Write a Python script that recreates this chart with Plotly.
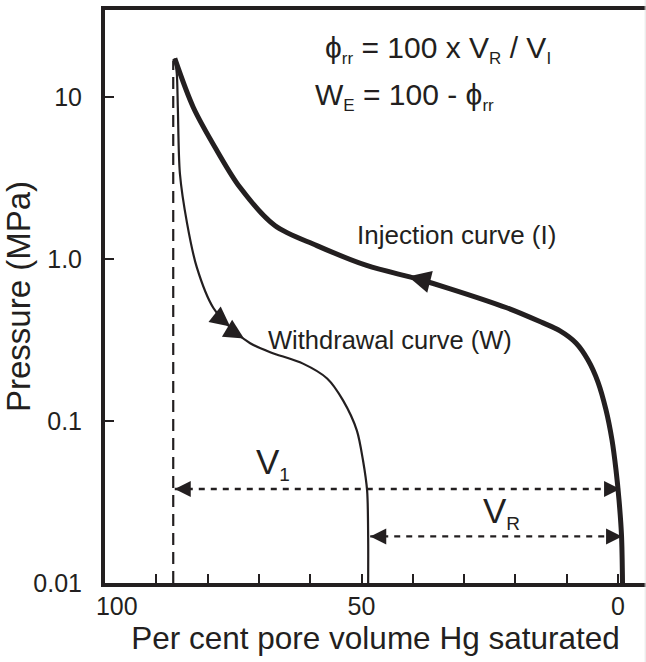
import math
import plotly.graph_objects as go

# Mercury injection / withdrawal capillary pressure curves
injection_pct = [86.4, 82.8, 78.2, 73.7, 66.9, 58.7, 49.0, 39.2, 32.7, 21.7, 15.0, 11.3, 8.2, 5.85, 3.9, 2.34, 1.17, 0.39, -0.2, -0.68, -0.88]
injection_mpa = [17.3, 8.65, 4.68, 2.77, 1.61, 1.21, 0.912, 0.755, 0.655, 0.50, 0.408, 0.360, 0.303, 0.238, 0.174, 0.117, 0.0764, 0.0499, 0.0325, 0.0198, 0.010]

withdrawal_pct = [86.4, 86.0, 85.8, 85.4, 84.0, 82.1, 78.9, 75.0, 71.7, 67.8, 61.4, 56.7, 53.6, 50.9, 49.7, 48.9, 48.7, 48.7]
withdrawal_mpa = [17.3, 13.9, 8.6, 3.37, 1.66, 0.887, 0.50, 0.363, 0.302, 0.266, 0.226, 0.183, 0.134, 0.0873, 0.057, 0.037, 0.019, 0.010]

# Maximum mercury saturation (dashed guide) and the two volume spans
max_sat_pct = 86.7
v1_span = [86.4, -0.4]
v1_level = 0.038
vr_span = [48.3, -0.8]
vr_level = 0.0194

# Axis ticks
x_ticks = [100, 90, 80, 70, 60, 50, 40, 30, 20, 10, 0]
x_label_vals = [97.7, 50, 0]
x_label_text = ["100", "50", "0"]
y_ticks = [0.01, 0.1, 1, 10]
y_tick_text = ["0.01", "0.1", "1.0", "10"]

INK = "#231f20"
FONT = "Liberation Sans, Arial, Helvetica, sans-serif"
X_RANGE = [100, -5.46]
Y_RANGE = [-2, 1.537]


def sub(text, size):
    return f"<sub><span style='font-size:{size}px'>{text}</span></sub>"


fig = go.Figure()

fig.add_trace(go.Scatter(
    x=[max_sat_pct, max_sat_pct], y=[0.01, 16.8], mode="lines",
    line=dict(color=INK, width=2.2, dash="12px,7px"), hoverinfo="skip"))

fig.add_trace(go.Scatter(
    x=v1_span, y=[v1_level, v1_level], mode="lines",
    line=dict(color=INK, width=2.4, dash="6px,6px"), hoverinfo="skip"))
fig.add_trace(go.Scatter(
    x=vr_span, y=[vr_level, vr_level], mode="lines",
    line=dict(color=INK, width=2.4, dash="6px,6px"), hoverinfo="skip"))

fig.add_trace(go.Scatter(
    x=withdrawal_pct, y=withdrawal_mpa, mode="lines",
    line=dict(color=INK, width=2.2, shape="spline", smoothing=0.8), hoverinfo="skip"))
fig.add_trace(go.Scatter(
    x=injection_pct, y=injection_mpa, mode="lines",
    line=dict(color=INK, width=5, shape="spline", smoothing=0.9), hoverinfo="skip"))

# invisible trace carrying the label-only axis
fig.add_trace(go.Scatter(x=[50], y=[1], xaxis="x2", mode="markers",
                         marker=dict(opacity=0), hoverinfo="skip"))


def arrow(x, y, ax, ay, width, size):
    return dict(x=x, y=math.log10(y), xref="x", yref="y", ax=ax, ay=ay,
                showarrow=True, arrowhead=2, arrowsize=size, arrowwidth=width,
                arrowcolor=INK, text="", standoff=0)


def label(x, y, text, size, xanchor="center"):
    return dict(x=x, y=y, xref="x", yref="y", text=text, showarrow=False,
                xanchor=xanchor, yanchor="middle",
                font=dict(family=FONT, size=size, color=INK))


annotations = [
    # span arrowheads
    arrow(v1_span[0], v1_level, 10, 0, 2, 1.6),
    arrow(v1_span[1], v1_level, -10, 0, 2, 1.6),
    arrow(vr_span[0], vr_level, 10, 0, 2, 1.6),
    arrow(vr_span[1], vr_level, -10, 0, 2, 1.6),
    # direction arrows on the curves
    arrow(40.9, 0.78, 20, 5, 3, 1.5),
    arrow(75.6, 0.383, -14, -11, 1.8, 2.2),
    arrow(72.9, 0.323, -15, -9, 1.8, 2.2),
    # text
    label(57.5, 1.296, "ϕ" + sub("rr", 17) + " = 100 x V" + sub("R", 17) + " / V" + sub("I", 17), 30, "left"),
    label(59.5, 1.0, "W" + sub("E", 17) + " = 100 - ϕ" + sub("rr", 17), 30, "left"),
    label(31.4, 0.148, "Injection curve (I)", 26),
    label(44.4, -0.5, "Withdrawal curve (W)", 25.5),
    label(70.9, -1.26, "V" + sub("1", 19), 35, "left"),
    label(26.8, -1.562, "V" + sub("R", 19), 35, "left"),
]

fig.update_layout(
    width=646, height=662,
    margin=dict(l=105, r=0, t=10, b=79),
    paper_bgcolor="white", plot_bgcolor="white",
    showlegend=False,
    font=dict(family=FONT, color=INK),
    annotations=annotations,
    xaxis=dict(
        range=X_RANGE, tickvals=x_ticks, showticklabels=False,
        ticks="inside", ticklen=9, tickwidth=2, tickcolor=INK,
        showline=True, linewidth=4, linecolor=INK, mirror=True,
        showgrid=False, zeroline=False,
    ),
    xaxis2=dict(
        range=X_RANGE, overlaying="x", anchor="y", side="bottom",
        tickvals=x_label_vals, ticktext=x_label_text, ticks="",
        ticklabelstandoff=6,
        showline=False, showgrid=False, zeroline=False,
        tickfont=dict(size=25, family=FONT, color=INK),
        title=dict(text="Per cent pore volume Hg saturated",
                   font=dict(size=31.5, family=FONT, color=INK), standoff=6),
    ),
    yaxis=dict(
        type="log", range=Y_RANGE, tickvals=y_ticks, ticktext=y_tick_text,
        ticks="inside", ticklen=9, tickwidth=2, tickcolor=INK,
        tickfont=dict(size=25, family=FONT, color=INK), ticklabelstandoff=14,
        showline=True, linewidth=4, linecolor=INK,
        showgrid=False, zeroline=False,
        title=dict(text="Pressure (MPa)", font=dict(size=33, family=FONT, color=INK), standoff=0),
    ),
    shapes=[dict(type="line", xref="paper", yref="paper",
                 x0=0.9985, x1=0.9985, y0=-0.14, y1=1.02,
                 line=dict(color="#e4e4e4", width=1))],
)

fig.write_html("out.html")
